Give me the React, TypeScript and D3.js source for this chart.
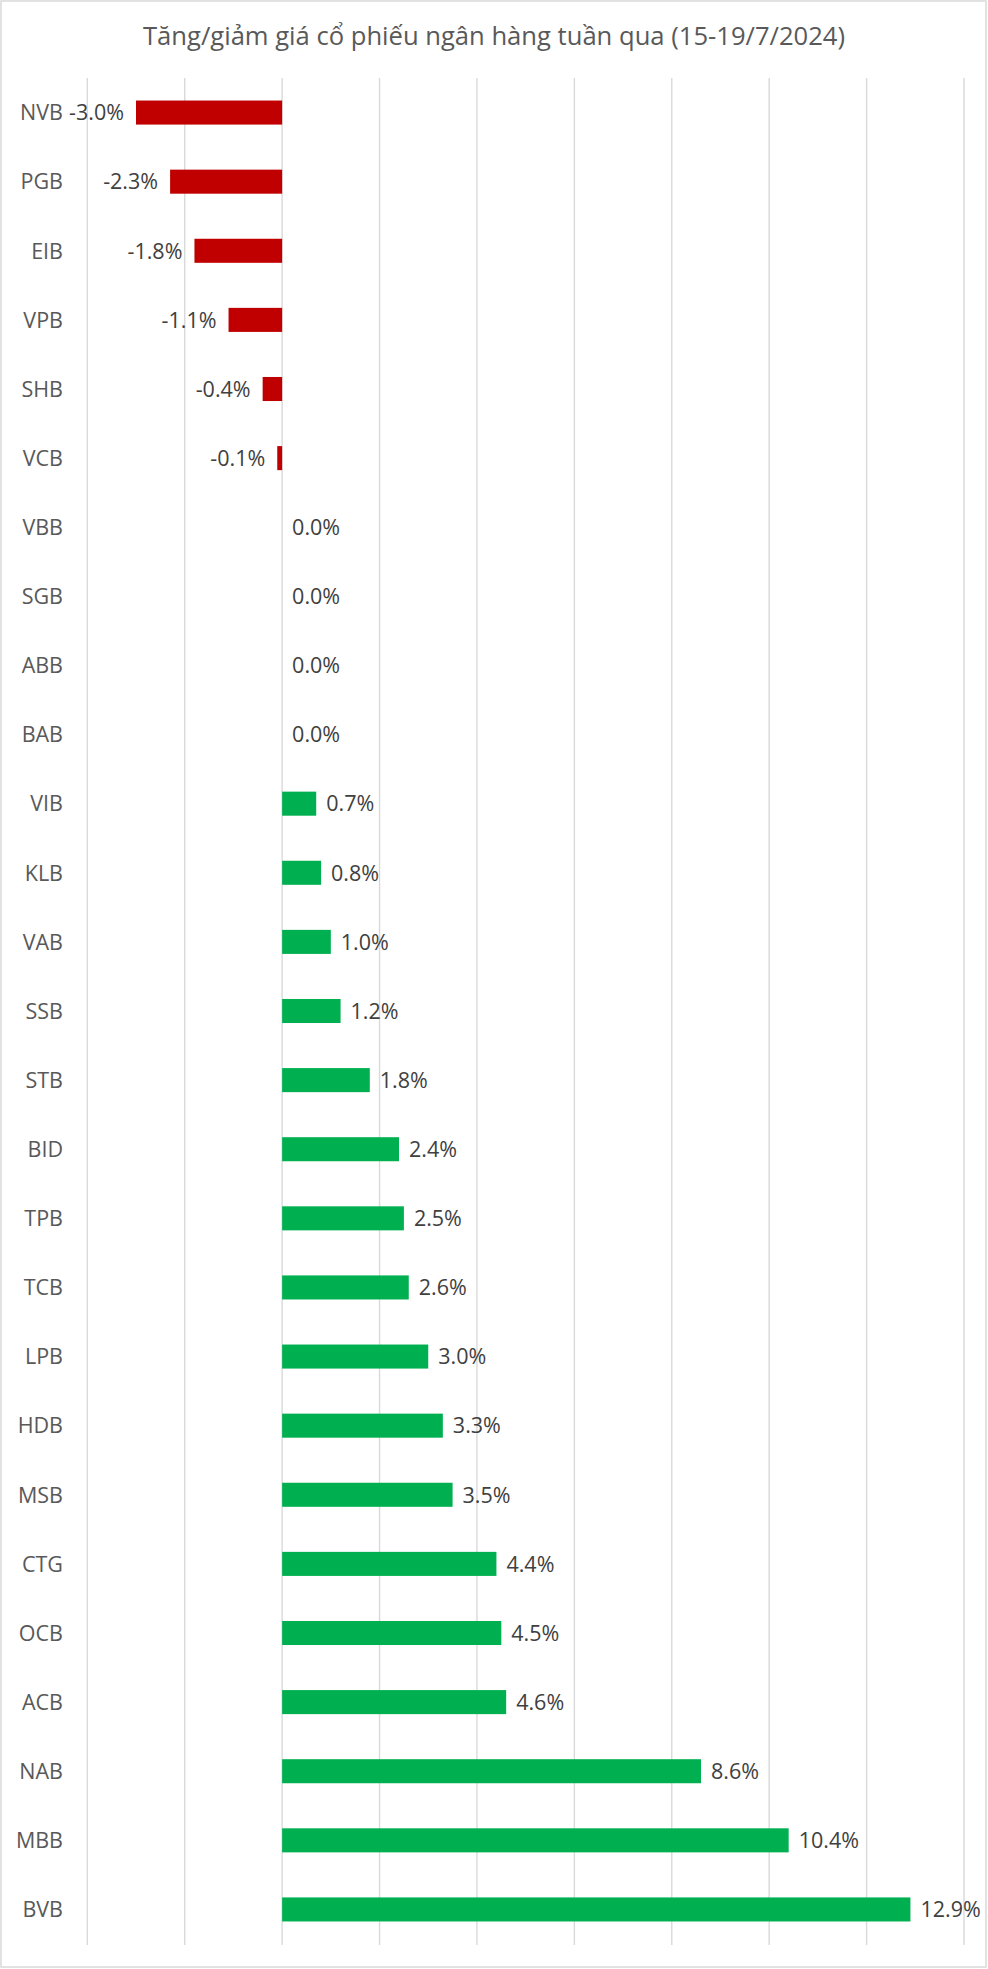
import { useMemo } from "react";
import * as d3 from "d3";

const banks = [
  "NVB", "PGB", "EIB", "VPB", "SHB", "VCB", "VBB", "SGB", "ABB", "BAB",
  "VIB", "KLB", "VAB", "SSB", "STB", "BID", "TPB", "TCB", "LPB", "HDB",
  "MSB", "CTG", "OCB", "ACB", "NAB", "MBB", "BVB",
];
const changes = [
  -3.0, -2.3, -1.8, -1.1, -0.4, -0.1, 0.0, 0.0, 0.0, 0.0,
  0.7, 0.8, 1.0, 1.2, 1.8, 2.4, 2.5, 2.6, 3.0, 3.3,
  3.5, 4.4, 4.5, 4.6, 8.6, 10.4, 12.9,
];
const gridTicks = [-4, -2, 0, 2, 4, 6, 8, 10, 12, 14];
const title = "Tăng/giảm giá cổ phiếu ngân hàng tuần qua (15-19/7/2024)";

const W = 988;
const H = 1969;
const FONT = "'Open Sans', 'Noto Sans', sans-serif";

export default function App() {
  const x = useMemo(() => d3.scaleLinear().domain([-4, 14]).range([87.3, 964]), []);
  const y = useMemo(
    () => d3.scaleBand().domain(banks).range([78, 1944]).paddingInner(0.652).paddingOuter(0.326),
    []
  );
  const bw = y.bandwidth();

  return (
    <svg
      width={W}
      height={H}
      viewBox={`0 0 ${W} ${H}`}
      style={{ position: "absolute", left: 0, top: 0, background: "#fff" }}
    >
      <rect x={1} y={1} width={W - 3} height={H - 3} fill="#fff" stroke="#d9d9d9" strokeWidth={1.5} />

      <text x={494} y={45} textAnchor="middle" fill="#595959" fontSize={25.6} fontFamily={FONT}>
        {title}
      </text>

      {/* vertical grid */}
      {gridTicks.map((t) => (
        <line key={t} x1={x(t)} x2={x(t)} y1={78} y2={1945} stroke="#d9d9d9" strokeWidth={1.4} />
      ))}

      {/* bars */}
      {banks.map((b, i) => {
        const v = changes[i];
        if (v === 0) return null;
        const x0 = x(Math.min(0, v));
        const x1 = x(Math.max(0, v));
        return (
          <rect
            key={b}
            x={x0}
            y={y(b)}
            width={x1 - x0}
            height={bw}
            fill={v < 0 ? "#c00000" : "#00b050"}
          />
        );
      })}

      {/* category labels */}
      {banks.map((b) => (
        <text
          key={b}
          x={63}
          y={(y(b) as number) + bw / 2 + 7.8}
          textAnchor="end"
          fill="#595959"
          fontSize={21.5}
          fontFamily={FONT}
        >
          {b}
        </text>
      ))}

      {/* value labels */}
      {banks.map((b, i) => {
        const v = changes[i];
        const neg = v < 0;
        return (
          <text
            key={b}
            x={neg ? x(v) - 12 : x(v) + 10}
            y={(y(b) as number) + bw / 2 + 7.8}
            textAnchor={neg ? "end" : "start"}
            fill="#404040"
            fontSize={21.5}
            fontFamily={FONT}
          >
            {v.toFixed(1) + "%"}
          </text>
        );
      })}
    </svg>
  );
}
